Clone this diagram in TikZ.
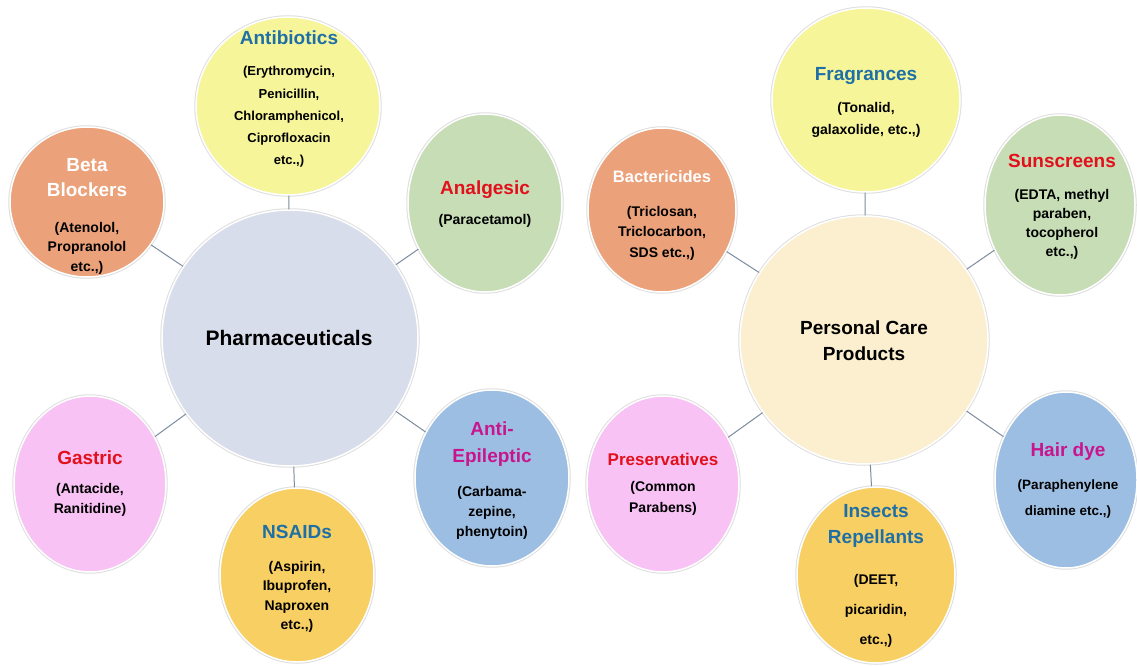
\documentclass[tikz,border=0pt]{standalone}
\usepackage{fontspec}
\setmainfont{Liberation Sans}
\usetikzlibrary{shapes.geometric}
\definecolor{cPharma}{HTML}{D8DDEB}
\definecolor{cPCP}{HTML}{FBEFCF}
\definecolor{cYellow}{HTML}{F7F59A}
\definecolor{cOrange}{HTML}{EBA17A}
\definecolor{cGreen}{HTML}{C6DDB5}
\definecolor{cPink}{HTML}{F8C2F4}
\definecolor{cGold}{HTML}{F8CF62}
\definecolor{cBlue}{HTML}{9CBEE2}
\definecolor{tBlue}{HTML}{1E6FA6}
\definecolor{tRed}{HTML}{E2101C}
\definecolor{tMag}{HTML}{C8158E}
\definecolor{cLine}{HTML}{7C8BA0}
\begin{document}
\begin{tikzpicture}[x=1pt,y=-1pt,
  rim/.style={preaction={draw=black!13, line width=3.5pt}},
  bubble/.style={ellipse, inner sep=0pt, rim, draw=white, line width=1.5pt, fill=#1},
  hub/.style={circle, inner sep=0pt, rim, draw=white, line width=1.5pt, fill=#1},
  head/.style={font=\bfseries\fontsize{19}{25}\selectfont, align=center, inner sep=0pt},
  body/.style={font=\bfseries\fontsize{14}{20}\selectfont, align=center, inner sep=0pt},
  link/.style={draw=cLine, line width=1pt}]
\useasboundingbox (0,0) rectangle (1137,666);

% ---------- Pharmaceuticals ----------
\node[hub=cPharma, minimum size=256pt] (ph) at (290,338) {};
\node[bubble=cYellow, minimum width=184pt, minimum height=178pt] (ab) at (288,106) {};
\node[bubble=cOrange, minimum width=154pt, minimum height=150pt] (bb) at (87,202) {};
\node[bubble=cGreen, minimum width=154pt, minimum height=178pt] (an) at (485,203) {};
\node[bubble=cPink, minimum width=152pt, minimum height=176pt] (ga) at (90,484) {};
\node[bubble=cGold, minimum width=154pt, minimum height=174pt] (ns) at (297,575) {};
\node[bubble=cBlue, minimum width=154pt, minimum height=176pt] (ae) at (492,478) {};

\draw[link] (ph) -- (ab);
\draw[link] (ph) -- (bb);
\draw[link] (ph) -- (an);
\draw[link] (ph) -- (ga);
\draw[link] (ph) -- (ns);
\draw[link] (ph) -- (ae);

\node[head, font=\bfseries\fontsize{21}{25}\selectfont] (phT) at (289,338) {Pharmaceuticals};
\node[head, text=tBlue] (abH) at (289,38) {Antibiotics};
\node[body, font=\bfseries\fontsize{13}{22.3}\selectfont] (abB) at (289,117) {(Erythromycin,\\Penicillin,\\Chloramphenicol,\\Ciprofloxacin\\etc.,)};
\node[head, text=white] (bbH) at (87,178) {Beta\\Blockers};
\node[body, font=\bfseries\fontsize{14}{19.5}\selectfont] (bbB) at (87,248) {(Atenolol,\\Propranolol\\etc.,)};
\node[head, text=tRed] (anH) at (485,190) {Analgesic};
\node[body] (anB) at (485,221) {(Paracetamol)};
\node[head, text=tRed] (gaH) at (90,458) {Gastric};
\node[body, font=\bfseries\fontsize{14}{19.5}\selectfont] (gaB) at (90,500) {(Antacide,\\Ranitidine)};
\node[head, text=tBlue] (nsH) at (297,532) {NSAIDs};
\node[body, font=\bfseries\fontsize{14}{19.5}\selectfont] (nsB) at (297,597) {(Aspirin,\\Ibuprofen,\\Naproxen\\etc.,)};
\node[head, text=tMag, font=\bfseries\fontsize{19}{27}\selectfont] (aeH) at (492,444) {Anti-\\Epileptic};
\node[body] (aeB) at (492,513) {(Carbama-\\zepine,\\phenytoin)};

% ---------- Personal Care Products ----------
\node[hub=cPCP, minimum size=248pt] (pc) at (864,340) {};
\node[bubble=cYellow, minimum width=188pt, minimum height=184pt] (fr) at (866,100) {};
\node[bubble=cOrange, minimum width=148pt, minimum height=164pt] (bc) at (662,210) {};
\node[bubble=cGreen, minimum width=150pt, minimum height=180pt] (ss) at (1060,205) {};
\node[bubble=cPink, minimum width=152pt, minimum height=176pt] (pr) at (663,484) {};
\node[bubble=cGold, minimum width=158pt, minimum height=176pt] (ir) at (876,575) {};
\node[bubble=cBlue, minimum width=142pt, minimum height=176pt] (hd) at (1066,480) {};

\draw[link] (pc) -- (fr);
\draw[link] (pc) -- (bc);
\draw[link] (pc) -- (ss);
\draw[link] (pc) -- (pr);
\draw[link] (pc) -- (ir);
\draw[link] (pc) -- (hd);

\node[head, font=\bfseries\fontsize{19}{26}\selectfont] (pcT) at (864,341) {Personal Care\\Products};
\node[head, text=tBlue] (frH) at (866,76) {Fragrances};
\node[body, font=\bfseries\fontsize{14}{22}\selectfont] (frB) at (866,120) {(Tonalid,\\galaxolide, etc.,)};
\node[head, text=white, font=\bfseries\fontsize{16.5}{20}\selectfont] (bcH) at (662,177) {Bactericides};
\node[body, font=\bfseries\fontsize{14}{20.5}\selectfont] (bcB) at (662,233) {(Triclosan,\\Triclocarbon,\\SDS etc.,)};
\node[head, text=tRed] (ssH) at (1062,161) {Sunscreens};
\node[body, font=\bfseries\fontsize{14}{19}\selectfont] (ssB) at (1062,224) {(EDTA, methyl\\paraben,\\tocopherol\\etc.,)};
\node[head, text=tRed, font=\bfseries\fontsize{17}{20}\selectfont] (prH) at (663,459) {Preservatives};
\node[body, font=\bfseries\fontsize{14}{21}\selectfont] (prB) at (663,498) {(Common\\Parabens)};
\node[head, text=tBlue, font=\bfseries\fontsize{19}{26}\selectfont] (irH) at (876,526) {Insects\\Repellants};
\node[body, font=\bfseries\fontsize{14}{30}\selectfont] (irB) at (876,611) {(DEET,\\picaridin,\\etc.,)};
\node[head, text=tMag] (hdH) at (1068,452) {Hair dye};
\node[body, font=\bfseries\fontsize{13.5}{26}\selectfont] (hdB) at (1068,499) {(Paraphenylene\\diamine etc.,)};
\end{tikzpicture}
\end{document}
